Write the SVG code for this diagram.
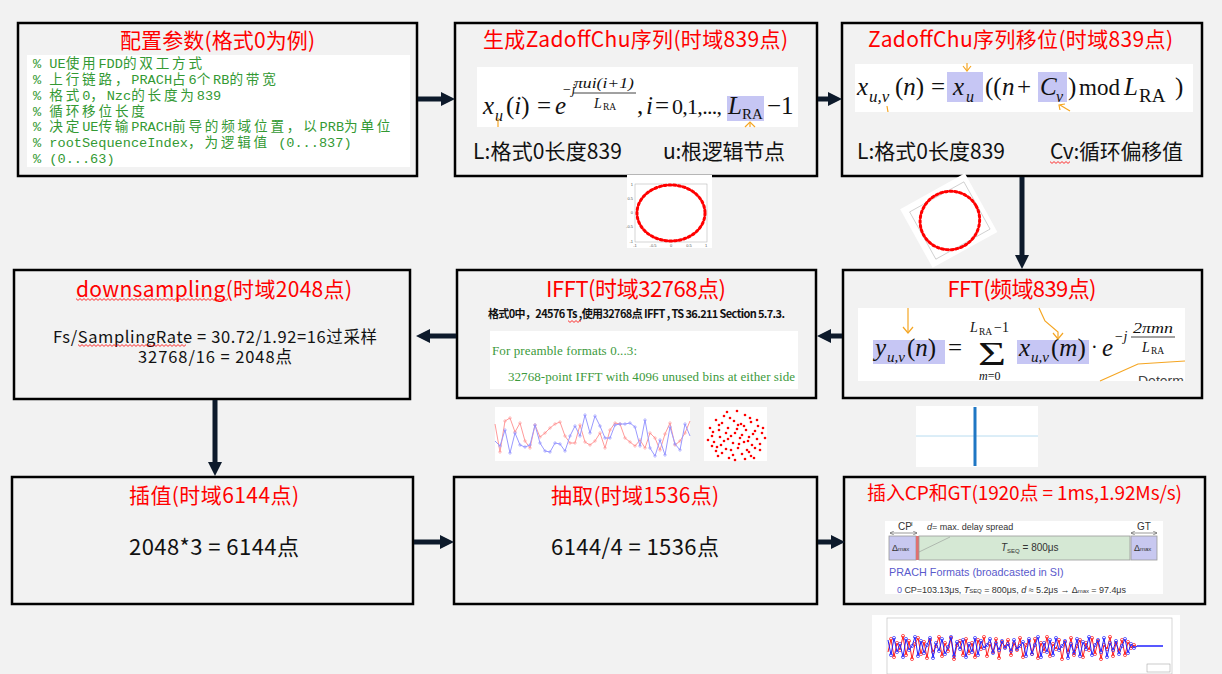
<svg xmlns="http://www.w3.org/2000/svg" width="1222" height="674" viewBox="0 0 1222 674">
<defs>
<style>
.box{fill:#f2f2f2;stroke:#000;stroke-width:2.5}
.ttl{font-family:"Noto Sans CJK SC",sans-serif;fill:#ff0000;text-anchor:middle}
.txt{font-family:"Noto Sans CJK SC",sans-serif;fill:#111}
.code{font-family:"Liberation Mono","Noto Sans CJK SC",monospace;font-size:13.6px;fill:#339933}
.cj{letter-spacing:2.8px}
.m{font-family:"Liberation Serif","Times New Roman",serif;fill:#111}
.i{font-style:italic}
.conn{stroke:#0d1a2b;stroke-width:5;fill:none;marker-end:url(#ah)}
.hl{fill:#c6c6f4}
.or{stroke:#f5a623;stroke-width:1.2;fill:none}
.wv{fill:url(#wave)}
.tk{font-family:"Liberation Sans",sans-serif;font-size:4px;fill:#555}
.pf{font-family:"Liberation Sans",sans-serif;fill:#333}
.grn{font-family:"Liberation Serif",serif;font-size:13px;fill:#3c9a3c}
</style>
<marker id="ah" markerUnits="userSpaceOnUse" markerWidth="14" markerHeight="14" viewBox="0 0 14 14" refX="6" refY="7" orient="auto"><path d="M0,0 L14,7 L0,14 z" fill="#0d1a2b"/></marker>
<marker id="mb" markerUnits="userSpaceOnUse" markerWidth="4" markerHeight="4" viewBox="-2 -2 4 4"><circle r="1.2" fill="none" stroke="#8a8aff" stroke-width="0.6"/></marker>
<marker id="mr" markerUnits="userSpaceOnUse" markerWidth="4" markerHeight="4" viewBox="-2 -2 4 4"><circle r="1.2" fill="none" stroke="#ff9090" stroke-width="0.6"/></marker>
<marker id="nb" markerUnits="userSpaceOnUse" markerWidth="5" markerHeight="5" viewBox="-2.5 -2.5 5 5"><circle r="1.6" fill="none" stroke="#3030ff" stroke-width="0.7"/></marker>
<marker id="nr" markerUnits="userSpaceOnUse" markerWidth="5" markerHeight="5" viewBox="-2.5 -2.5 5 5"><circle r="1.6" fill="none" stroke="#ff2020" stroke-width="0.7"/></marker>
<marker id="sa" markerUnits="userSpaceOnUse" markerWidth="4" markerHeight="4" viewBox="0 0 4 4" refX="4" refY="2" orient="auto-start-reverse"><path d="M0,0 L4,2 L0,4" fill="none" stroke="#555" stroke-width="0.6"/></marker>
<pattern id="wave" patternUnits="userSpaceOnUse" width="4" height="3"><path d="M0,0.6 L2,2.4 L4,0.6" fill="none" stroke="#ff0000" stroke-width="0.8"/></pattern>
<clipPath id="c6"><rect x="858" y="308" width="327" height="73"/></clipPath>
</defs>
<rect x="0" y="0" width="1222" height="674" fill="#f2f2f2"/>

<g id="n1">
<rect class="box" x="18" y="23" width="399" height="153"/>
<text class="ttl" x="217.5" y="48" font-size="21" textLength="195">配置参数(格式0为例)</text>
<rect x="27" y="55" width="383" height="112" fill="#fff"/>
<text class="code" x="33" y="68">% UE<tspan class="cj">使用</tspan>FDD<tspan class="cj">的双工方式</tspan></text>
<text class="code" x="33" y="84">% <tspan class="cj">上行链路，</tspan>PRACH<tspan class="cj">占</tspan>6<tspan class="cj">个</tspan>RB<tspan class="cj">的带宽</tspan></text>
<text class="code" x="33" y="100">% <tspan class="cj">格式</tspan>0<tspan class="cj">，</tspan>Nzc<tspan class="cj">的长度为</tspan>839</text>
<text class="code" x="33" y="116">% <tspan class="cj">循环移位长度</tspan></text>
<text class="code" x="33" y="131">% <tspan class="cj">决定</tspan>UE<tspan class="cj">传输</tspan>PRACH<tspan class="cj">前导的频域位置，以</tspan>PRB<tspan class="cj">为单位</tspan></text>
<text class="code" x="33" y="147">% rootSequenceIndex<tspan class="cj">，为逻辑值</tspan> (0...837)</text>
<text class="code" x="33" y="163">% (0...63)</text>
</g>

<g id="n2">
<rect class="box" x="455" y="23" width="362" height="153"/>
<text class="ttl" x="635.5" y="47" font-size="21" textLength="305">生成ZadoffChu序列(时域839点)</text>
<rect x="477" y="67" width="321" height="60" fill="#fff"/>
<rect class="hl" x="727" y="96" width="37" height="25"/>
<text class="m i" x="483" y="114" font-size="25">x</text>
<text class="m i" x="495" y="121" font-size="16">u</text>
<text class="m" x="506" y="114" font-size="25">(<tspan class="i">i</tspan>)</text>
<text class="m" x="537" y="114" font-size="25">=</text>
<text class="m i" x="555" y="114" font-size="25">e</text>
<text class="m i" x="562" y="94" font-size="14">−j</text>
<text class="m i" x="574" y="88" font-size="15" textLength="60" lengthAdjust="spacingAndGlyphs">πui(i+1)</text>
<line x1="573" y1="93" x2="636" y2="93" stroke="#111" stroke-width="0.8"/>
<text class="m i" x="594" y="108" font-size="14">L</text>
<text class="m" x="603" y="110" font-size="9.5">RA</text>
<text class="m" x="637" y="114" font-size="25">,</text>
<text class="m i" x="646" y="114" font-size="25">i</text>
<text class="m" x="655" y="114" font-size="25">=</text>
<text class="m" x="672" y="114" font-size="22" textLength="50">0,1,...,</text>
<text class="m i" x="728" y="114" font-size="25">L</text>
<text class="m" x="742" y="119" font-size="15">RA</text>
<text class="m" x="767" y="114" font-size="25">−1</text>
<line class="or" x1="498" y1="118" x2="498" y2="127"/>
<polyline class="or" points="745,127 750,122 755,127"/>
<line class="or" x1="750" y1="122" x2="750" y2="127"/>
<text class="txt" x="473" y="159" font-size="21" textLength="149">L:格式0长度839</text>
<text class="txt" x="663" y="159" font-size="21" textLength="122">u:根逻辑节点</text>
</g>

<g id="n3">
<rect class="box" x="842" y="23" width="360" height="153"/>
<text class="ttl" x="1020.5" y="47" font-size="21" textLength="305">ZadoffChu序列移位(时域839点)</text>
<rect x="855" y="64" width="338" height="48" fill="#fff"/>
<rect class="hl" x="947" y="72" width="36" height="30"/>
<rect class="hl" x="1038" y="72" width="29" height="30"/>
<text class="m i" x="857" y="95" font-size="25">x</text>
<text class="m i" x="869" y="102" font-size="17">u,v</text>
<text class="m" x="895" y="95" font-size="25">(<tspan class="i">n</tspan>)</text>
<text class="m" x="931" y="95" font-size="25">=</text>
<text class="m i" x="953" y="95" font-size="25">x</text>
<text class="m i" x="966" y="102" font-size="16">u</text>
<text class="m" x="985" y="95" font-size="25">((</text>
<text class="m i" x="1002" y="95" font-size="25">n</text>
<text class="m" x="1017" y="95" font-size="25">+</text>
<text class="m i" x="1040" y="95" font-size="25">C</text>
<text class="m i" x="1056" y="102" font-size="16">v</text>
<text class="m" x="1068" y="95" font-size="25">)</text>
<text class="m" x="1079" y="95" font-size="23">mod</text>
<text class="m i" x="1124" y="95" font-size="25">L</text>
<text class="m" x="1139" y="102" font-size="19">RA</text>
<text class="m" x="1175" y="95" font-size="25">)</text>
<line class="or" x1="967" y1="63" x2="967" y2="70"/>
<polyline class="or" points="963,66 967,71 971,66"/>
<line class="or" x1="887" y1="106" x2="888" y2="112"/>
<line class="or" x1="1070" y1="111" x2="1060" y2="105"/>
<polyline class="or" points="1060,110 1059,105 1065,104"/>
<text class="txt" x="857" y="159" font-size="21" textLength="148">L:格式0长度839</text>
<text class="txt" x="1050" y="159" font-size="21" textLength="133">Cv:循环偏移值</text>
<g transform="translate(1050,161)"><rect class="wv" x="0" y="0" width="20" height="3"/></g>
</g>

<g id="n4">
<rect class="box" x="14" y="270" width="396" height="129"/>
<text class="ttl" x="214" y="297" font-size="21" textLength="276">downsampling(时域2048点)</text>
<g transform="translate(76,298)"><rect class="wv" x="0" y="0" width="152" height="3"/></g>
<text class="txt" x="215" y="343" font-size="16.5" text-anchor="middle" textLength="324">Fs/SamplingRate = 30.72/1.92=16过采样</text>
<g transform="translate(78,344)"><rect class="wv" x="0" y="0" width="108" height="3"/></g>
<text class="txt" x="215" y="363" font-size="16.5" text-anchor="middle" textLength="154">32768/16 = 2048点</text>
</g>

<g id="n5">
<rect class="box" x="457" y="270" width="359" height="128"/>
<text class="ttl" x="636" y="297" font-size="22" textLength="180">IFFT(时域32768点)</text>
<text class="txt" x="488" y="318" font-size="11" font-weight="bold" textLength="297">格式0中，24576 Ts ,使用32768点 IFFT , TS 36.211 Section 5.7.3.</text>
<g transform="translate(568,320)"><rect class="wv" x="0" y="0" width="13" height="3"/></g>
<rect x="490" y="331" width="308" height="58" fill="#fff"/>
<text class="grn" x="492" y="355" textLength="145">For preamble formats 0...3:</text>
<text class="grn" x="508" y="381" textLength="287">32768-point IFFT with 4096 unused bins at either side</text>
</g>

<g id="n6">
<rect class="box" x="843" y="270" width="359" height="128"/>
<text class="ttl" x="1022" y="297" font-size="22" textLength="149">FFT(频域839点)</text>
<rect x="858" y="308" width="327" height="73" fill="#fff"/>
<rect class="hl" x="873" y="340" width="72" height="24"/>
<rect class="hl" x="1017" y="340" width="72" height="24"/>
<text class="m i" x="875" y="356" font-size="25">y</text>
<text class="m i" x="887" y="362" font-size="15">u,v</text>
<text class="m" x="907" y="356" font-size="25">(<tspan class="i">n</tspan>)</text>
<text class="m" x="948" y="356" font-size="25">=</text>
<text class="m" x="978" y="365" font-size="33" textLength="28" lengthAdjust="spacingAndGlyphs">Σ</text>
<text class="m i" x="970" y="332" font-size="14">L</text>
<text class="m" x="979" y="335" font-size="9.5">RA</text>
<text class="m" x="994" y="332" font-size="14">−1</text>
<text class="m" x="979" y="380" font-size="12"><tspan class="i">m</tspan>=0</text>
<text class="m i" x="1019" y="356" font-size="25">x</text>
<text class="m i" x="1031" y="362" font-size="15">u,v</text>
<text class="m" x="1051" y="356" font-size="25">(<tspan class="i">m</tspan>)</text>
<text class="m" x="1091" y="354" font-size="20">·</text>
<text class="m i" x="1102" y="356" font-size="25">e</text>
<text class="m i" x="1114" y="341" font-size="14">−j</text>
<text class="m i" x="1133" y="333" font-size="15" textLength="40" lengthAdjust="spacingAndGlyphs">2πmn</text>
<line x1="1131" y1="337" x2="1175" y2="337" stroke="#111" stroke-width="0.8"/>
<text class="m i" x="1142" y="352" font-size="14">L</text>
<text class="m" x="1151" y="354" font-size="9.5">RA</text>
<line class="or" x1="908" y1="308" x2="908" y2="333"/>
<polyline class="or" points="903,327 908,333 913,327"/>
<polyline class="or" points="1039,308 1045,321 1058,332 1058,339"/>
<polyline class="or" points="1053,333 1058,339 1063,333"/>
<polyline class="or" points="1100,381 1138,364 1185,361"/>
<text clip-path="url(#c6)" x="1138" y="386" font-family="Liberation Sans,sans-serif" font-size="14" fill="#444">Determ</text>
</g>

<g id="n7">
<rect class="box" x="12" y="477" width="401" height="127"/>
<text class="ttl" x="214" y="503" font-size="21" textLength="170">插值(时域6144点)</text>
<text class="txt" x="214" y="555" font-size="22" text-anchor="middle" textLength="170">2048*3 = 6144点</text>
</g>

<g id="n8">
<rect class="box" x="454" y="477" width="363" height="127"/>
<text class="ttl" x="635" y="503" font-size="21" textLength="168">抽取(时域1536点)</text>
<text class="txt" x="635" y="555" font-size="22" text-anchor="middle" textLength="168">6144/4 = 1536点</text>
</g>

<g id="n9">
<rect class="box" x="844" y="477" width="361" height="127"/>
<text class="ttl" x="1024.5" y="500" font-size="19" textLength="315">插入CP和GT(1920点 = 1ms,1.92Ms/s)</text>
<rect x="885" y="521" width="278" height="73" fill="#fff"/>
<text class="pf" x="898" y="530" font-size="10">CP</text>
<text class="pf" x="911" y="526" font-size="6">I</text>
<line x1="890" y1="533" x2="917" y2="533" stroke="#555" stroke-width="0.6" marker-start="url(#sa)" marker-end="url(#sa)"/>
<text class="pf" x="927" y="530" font-size="9"><tspan font-style="italic">d</tspan>= max. delay spread</text>
<text class="pf" x="1137" y="530" font-size="10">GT</text>
<line x1="1131" y1="533" x2="1157" y2="533" stroke="#555" stroke-width="0.6" marker-start="url(#sa)" marker-end="url(#sa)"/>
<rect x="889" y="536" width="27" height="24" fill="#c8c8f0" stroke="#999" stroke-width="0.8"/>
<rect x="916" y="536" width="3" height="24" fill="#e07070"/>
<rect x="919" y="536" width="211" height="24" fill="#d5e8d4" stroke="#999" stroke-width="0.8"/>
<rect x="1131" y="536" width="26" height="24" fill="#c8c8f0" stroke="#999" stroke-width="0.8"/>
<line x1="919" y1="552" x2="950" y2="537" stroke="#888" stroke-width="0.5"/>
<text class="pf" x="892" y="551" font-size="9">Δ<tspan font-size="6">max</tspan></text>
<text class="pf" x="1134" y="551" font-size="9">Δ<tspan font-size="6">max</tspan></text>
<text class="pf" x="1001" y="551" font-size="10"><tspan font-style="italic">T</tspan><tspan font-size="6" dy="2">SEQ</tspan><tspan dy="-2"> = 800μs</tspan></text>
<text x="889" y="576" font-family="Liberation Sans,sans-serif" font-size="10.8" fill="#5a5acc">PRACH Formats (broadcasted in SI)</text>
<text class="pf" x="897" y="593" font-size="9" textLength="229"><tspan fill="#5a5acc">0</tspan>  CP=103.13μs, <tspan font-style="italic">T</tspan><tspan font-size="6">SEQ</tspan> = 800μs, <tspan font-style="italic">d</tspan> ≈ 5.2μs → Δ<tspan font-size="6">max</tspan> = 97.4μs</text>
</g>

<g id="connectors">
<line class="conn" x1="418" y1="99" x2="447" y2="99"/>
<line class="conn" x1="818" y1="99" x2="834" y2="99"/>
<line class="conn" x1="1022" y1="177" x2="1022" y2="261"/>
<line class="conn" x1="842" y1="336" x2="825" y2="336"/>
<line class="conn" x1="456" y1="336" x2="424" y2="336"/>
<line class="conn" x1="215" y1="400" x2="215" y2="468"/>
<line class="conn" x1="414" y1="542" x2="446" y2="542"/>
<line class="conn" x1="818" y1="542" x2="837" y2="542"/>
</g>

<g id="fig-constellation1">
<rect x="627" y="175" width="85" height="73" fill="#fff"/>
<rect x="635" y="184" width="72" height="58" fill="none" stroke="#aaa" stroke-width="0.5"/>
<ellipse cx="671" cy="213" rx="34" ry="28" fill="none" stroke="#ff0000" stroke-width="3" stroke-dasharray="2.2 2.6" stroke-linecap="round"/>
<text class="tk" x="633" y="186" text-anchor="end">1</text>
<text class="tk" x="633" y="200" text-anchor="end">0.5</text>
<text class="tk" x="633" y="214" text-anchor="end">0</text>
<text class="tk" x="633" y="228" text-anchor="end">-0.5</text>
<text class="tk" x="633" y="243" text-anchor="end">-1</text>
<text class="tk" x="635" y="247" text-anchor="middle">-1</text>
<text class="tk" x="653" y="247" text-anchor="middle">-0.5</text>
<text class="tk" x="671" y="247" text-anchor="middle">0</text>
<text class="tk" x="689" y="247" text-anchor="middle">0.5</text>
<text class="tk" x="706" y="247" text-anchor="middle">1</text>
</g>

<g id="fig-constellation2" transform="rotate(-29 949 221)">
<rect x="912" y="187" width="74" height="67" fill="#fff"/>
<rect x="919" y="194" width="62" height="54" fill="none" stroke="#aaa" stroke-width="0.5"/>
<ellipse cx="950" cy="221" rx="30" ry="29" fill="none" stroke="#ff0000" stroke-width="3" stroke-dasharray="2.2 2.6" stroke-linecap="round"/>
</g>

<g id="fig-iq">
<rect x="495" y="407" width="195" height="54" fill="#fff"/>
<polyline fill="none" stroke="#ff9a9a" stroke-width="1" marker-mid="url(#mr)" points="495,424 500,452 505,421 510,418 515,432 520,423 525,441 530,448 535,425 540,437 545,433 550,428 555,424 560,422 565,436 570,443 575,443 580,425 585,442 590,445 595,441 600,433 605,448 610,430 615,423 620,424 625,438 630,442 635,446 640,440 645,448 650,433 655,438 660,450 665,434 670,423 675,445 680,441 685,433 690,421"/>
<polyline fill="none" stroke="#9a9aff" stroke-width="1" marker-mid="url(#mb)" points="495,441 500,446 505,430 510,453 515,433 520,445 525,447 530,445 535,425 540,443 545,451 550,452 555,443 560,444 565,451 570,436 575,426 580,436 585,415 590,433 595,416 600,426 605,438 610,438 615,425 620,424 625,424 630,423 635,427 640,446 645,420 650,448 655,456 660,440 665,455 670,427 675,444 680,450 685,424 690,436"/>
</g>

<g id="fig-scatter" fill="#ff0000">
<rect x="704" y="407" width="63" height="54" fill="#fff"/>
<circle cx="727" cy="412" r="1.3"/><circle cx="745" cy="415" r="1.3"/><circle cx="716" cy="420" r="1.3"/><circle cx="722" cy="423" r="1.3"/><circle cx="734" cy="421" r="1.3"/><circle cx="741" cy="424" r="1.3"/><circle cx="751" cy="422" r="1.3"/><circle cx="758" cy="426" r="1.3"/><circle cx="710" cy="428" r="1.3"/><circle cx="719" cy="430" r="1.3"/><circle cx="728" cy="428" r="1.3"/><circle cx="737" cy="429" r="1.3"/><circle cx="746" cy="430" r="1.3"/><circle cx="755" cy="431" r="1.3"/><circle cx="762" cy="433" r="1.3"/><circle cx="712" cy="436" r="1.3"/><circle cx="720" cy="437" r="1.3"/><circle cx="731" cy="436" r="1.3"/><circle cx="740" cy="438" r="1.3"/><circle cx="749" cy="437" r="1.3"/><circle cx="757" cy="439" r="1.3"/><circle cx="714" cy="442" r="1.3"/><circle cx="724" cy="441" r="1.3"/><circle cx="733" cy="443" r="1.3"/><circle cx="744" cy="442" r="1.3"/><circle cx="752" cy="445" r="1.3"/><circle cx="760" cy="444" r="1.3"/><circle cx="717" cy="447" r="1.3"/><circle cx="726" cy="449" r="1.3"/><circle cx="738" cy="448" r="1.3"/><circle cx="747" cy="450" r="1.3"/><circle cx="755" cy="448" r="1.3"/><circle cx="722" cy="453" r="1.3"/><circle cx="733" cy="455" r="1.3"/><circle cx="742" cy="454" r="1.3"/><circle cx="751" cy="456" r="1.3"/><circle cx="729" cy="458" r="1.3"/><circle cx="745" cy="459" r="1.3"/><circle cx="737" cy="411" r="1.3"/><circle cx="724" cy="416" r="1.3"/><circle cx="750" cy="418" r="1.3"/><circle cx="713" cy="432" r="1.3"/><circle cx="765" cy="438" r="1.3"/><circle cx="708" cy="440" r="1.3"/><circle cx="719" cy="425" r="1.3"/><circle cx="735" cy="433" r="1.3"/><circle cx="742" cy="435" r="1.3"/><circle cx="728" cy="439" r="1.3"/><circle cx="753" cy="434" r="1.3"/><circle cx="739" cy="444" r="1.3"/><circle cx="731" cy="450" r="1.3"/><circle cx="748" cy="441" r="1.3"/><circle cx="760" cy="450" r="1.3"/><circle cx="716" cy="451" r="1.3"/><circle cx="735" cy="460" r="1.3"/><circle cx="721" cy="445" r="1.3"/><circle cx="744" cy="426" r="1.3"/><circle cx="757" cy="420" r="1.3"/><circle cx="712" cy="446" r="1.3"/><circle cx="726" cy="433" r="1.3"/><circle cx="749" cy="452" r="1.3"/><circle cx="738" cy="425" r="1.3"/><circle cx="730" cy="418" r="1.3"/><circle cx="763" cy="428" r="1.3"/><circle cx="754" cy="458" r="1.3"/><circle cx="718" cy="456" r="1.3"/>
</g>

<g id="fig-spectrum">
<rect x="916" y="406" width="122" height="61" fill="#fff"/>
<line x1="916" y1="436" x2="1038" y2="436" stroke="#b8dcf0" stroke-width="1"/>
<line x1="975" y1="407" x2="975" y2="466" stroke="#1f77c4" stroke-width="3"/>
</g>

<g id="fig-timedomain">
<rect x="872" y="615" width="308" height="59" fill="#fff"/>
<rect x="887" y="618" width="285" height="56" fill="none" stroke="#bbb" stroke-width="0.6"/>
<polyline fill="none" stroke="#ff2020" stroke-width="1" marker-mid="url(#nr)" points="888,652 891,639 894,657 897,643 900,650 903,636 906,655 909,641 912,659 915,644 918,638 921,654 924,642 927,658 930,640 933,652 936,646 939,637 942,656 945,643 948,651 951,638 954,659 957,645 960,641 963,655 966,639 969,653 972,643 975,657 978,640 981,649 984,637 987,656 990,644 993,652 996,639 999,658 1002,642 1005,647 1008,640 1011,655 1014,643 1017,650 1020,638 1023,657 1026,645 1029,641 1032,654 1035,639 1038,658 1041,643 1044,651 1047,637 1050,656 1053,644 1056,649 1059,640 1062,659 1065,642 1068,652 1071,638 1074,655 1077,646 1080,640 1083,657 1086,643 1089,650 1092,638 1095,654 1098,641 1101,659 1104,645 1107,649 1110,637 1113,656 1116,643 1119,651 1122,640 1125,655 1128,642 1131,648 1134,645 1137,647"/>
<polyline fill="none" stroke="#2020ff" stroke-width="1" marker-mid="url(#nb)" points="888,640 891,655 894,638 897,652 900,644 903,657 906,639 909,650 912,646 915,637 918,656 921,641 924,653 927,645 930,638 933,658 936,643 939,651 942,639 945,654 948,647 951,637 954,656 957,642 960,649 963,640 966,657 969,644 972,652 975,638 978,655 981,641 984,648 987,645 990,639 993,653 996,643 999,650 1002,641 1005,648 1008,644 1011,651 1014,640 1017,649 1020,646 1023,642 1026,656 1029,639 1032,654 1035,645 1038,637 1041,657 1044,643 1047,652 1050,640 1053,655 1056,638 1059,650 1062,646 1065,641 1068,658 1071,644 1074,653 1077,639 1080,656 1083,642 1086,649 1089,637 1092,655 1095,645 1098,640 1101,652 1104,638 1107,657 1110,643 1113,650 1116,641 1119,654 1122,646 1125,639 1128,653 1131,644 1134,648 1137,646"/>
<line x1="1137" y1="646" x2="1163" y2="646" stroke="#2020ff" stroke-width="1.5"/>
<rect x="1147" y="664" width="23" height="8" fill="#fff" stroke="#999" stroke-width="0.5"/>
</g>
</svg>
